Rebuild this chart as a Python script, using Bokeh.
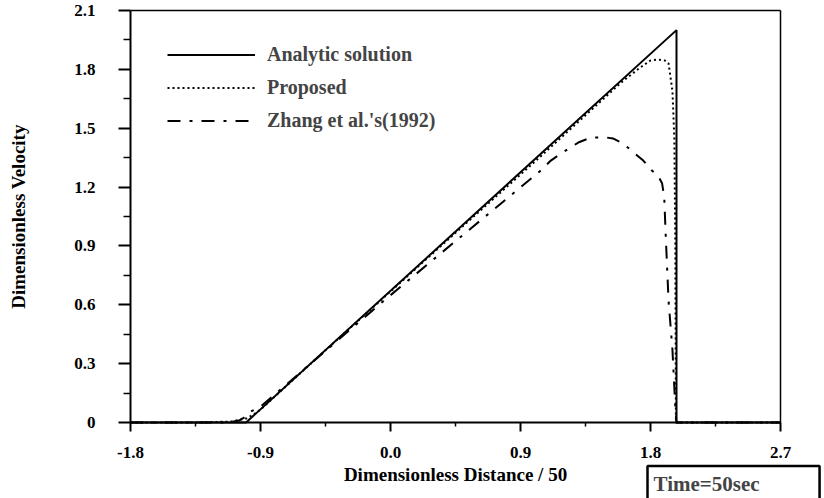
from bokeh.plotting import figure
from bokeh.models import (Range1d, FixedTicker, PrintfTickFormatter, Legend, LegendItem,
                          Label, LinearAxis)
from bokeh.embed import file_html
from bokeh.resources import INLINE

# ---- data ----
analytic_x = [-1.8, -1.0, 1.98, 1.98, 2.7]
analytic_y = [0.0, 0.0, 2.0, 0.0, 0.0]

proposed_x = [-1.8, -1.35, -1.1, -1.0, -0.95, -0.9, -0.5, 0.0, 0.5, 1.0, 1.4, 1.6,
              1.73, 1.8, 1.855, 1.9, 1.925, 1.952, 1.965, 1.972, 1.976, 2.7]
proposed_y = [0.0, 0.0, 0.005, 0.02, 0.04, 0.066, 0.335, 0.668, 1.0, 1.33, 1.6, 1.735,
              1.81, 1.845, 1.85, 1.845, 1.83, 1.69, 1.45, 0.9, 0.0, 0.0]

zhang_x = [-1.8, -1.12, -1.05, -1.0, -0.97, -0.93, -0.9, -0.6, -0.07, 0.5, 1.04, 1.11,
           1.18, 1.3, 1.39, 1.49, 1.54, 1.61, 1.75, 1.81, 1.85, 1.88, 1.895, 1.905,
           1.925, 1.952, 1.973, 1.98, 2.7]
zhang_y = [0.0, 0.0, 0.01, 0.03, 0.055, 0.07, 0.08, 0.27, 0.606, 0.955, 1.284, 1.335,
           1.371, 1.427, 1.453, 1.453, 1.448, 1.422, 1.335, 1.284, 1.26, 1.22, 1.15,
           0.96, 0.62, 0.37, 0.06, 0.0, 0.0]

x_ticks = [-1.8, -0.9, 0.0, 0.9, 1.8, 2.7]
x_minor = [-1.35, -0.45, 0.45, 1.35, 2.25]
y_ticks = [0.0, 0.3, 0.6, 0.9, 1.2, 1.5, 1.8, 2.1]
y_minor = [0.15, 0.45, 0.75, 1.05, 1.35, 1.65, 1.95]
x_min, x_max = -1.8, 2.7
y_min, y_max = 0.0, 2.1

series_names = ["Analytic solution", "Proposed", "Zhang et al.'s(1992)"]
x_label = "Dimensionless Distance / 50"
y_label = "Dimensionless Velocity"
time_text = "Time=50sec"

FONT = "Liberation Serif"

# axes box: x_min at 130 px, x_max at 780 px, y_max at 10 px, y_min at 422 px.
# The plotting frame covers the whole figure so that the axes (fixed in data
# space) and the boxed time label outside the axes box can all be drawn.
W, H = 824, 498
px_per_x = 650 / (x_max - x_min)
px_per_y = 412 / (y_max - y_min)
x_start = x_min - 130 / px_per_x
x_end = x_max + (W - 780) / px_per_x
y_start = y_min - (H - 422) / px_per_y
y_end = y_max + 10 / px_per_y

p = figure(width=W, height=H, output_backend="svg", toolbar_location=None,
           x_range=Range1d(x_start, x_end), y_range=Range1d(y_start, y_end),
           min_border_left=0, min_border_right=0, min_border_top=0, min_border_bottom=0)
p.xgrid.visible = False
p.ygrid.visible = False
p.outline_line_color = None
p.background_fill_color = "white"
p.border_fill_color = "white"

r1 = p.line(analytic_x, analytic_y, line_color="black", line_width=2)
r2 = p.line(proposed_x, proposed_y, line_color="black", line_width=2, line_dash="2 3")
r3 = p.line(zhang_x, zhang_y, line_color="black", line_width=2, line_dash="13 9 3 9")

xax = p.xaxis[0]
yax = p.yaxis[0]
xax.fixed_location = y_min
yax.fixed_location = x_min
xax.bounds = (x_min, x_max)
yax.bounds = (y_min, y_max)

for ax in (xax, yax):
    ax.axis_line_width = 2
    ax.axis_line_color = "black"
    ax.major_tick_line_width = 2
    ax.minor_tick_line_width = 1.5
    ax.major_tick_in = 0
    ax.minor_tick_in = 0
    ax.major_label_text_font = FONT
    ax.major_label_text_font_style = "bold"
    ax.major_label_text_font_size = "17px"
    ax.major_label_text_color = "black"
    ax.axis_label_text_font = FONT
    ax.axis_label_text_font_style = "bold"
    ax.axis_label_text_font_size = "19px"
    ax.axis_label_text_color = "black"

xax.ticker = FixedTicker(ticks=x_ticks, minor_ticks=x_minor)
yax.ticker = FixedTicker(ticks=y_ticks, minor_ticks=y_minor)
xax.formatter = PrintfTickFormatter(format="%.1f")
yax.formatter = PrintfTickFormatter(format="%.1f")
yax.major_label_overrides = {0: "0"}
yax.major_label_text_baseline = "top"

xax.major_tick_out = 9
xax.minor_tick_out = 4
yax.major_tick_out = 12
yax.minor_tick_out = 7
xax.major_label_standoff = 15
yax.major_label_standoff = 23
xax.axis_label = x_label
yax.axis_label = y_label
xax.axis_label_standoff = 3
yax.axis_label_standoff = 42

# top and right borders of the axes box
top = LinearAxis(fixed_location=y_max, bounds=(x_min, x_max), ticker=FixedTicker(ticks=[]),
                 major_label_text_font_size="0px", major_tick_line_color=None,
                 minor_tick_line_color=None, axis_line_width=1.5)
right = LinearAxis(fixed_location=x_max, bounds=(y_min, y_max), ticker=FixedTicker(ticks=[]),
                   major_label_text_font_size="0px", major_tick_line_color=None,
                   minor_tick_line_color=None, axis_line_width=1.5)
p.add_layout(top, "above")
p.add_layout(right, "right")

legend = Legend(items=[LegendItem(label=series_names[0], renderers=[r1]),
                       LegendItem(label=series_names[1], renderers=[r2]),
                       LegendItem(label=series_names[2], renderers=[r3])],
                location=(167, 365), border_line_color=None, background_fill_alpha=0,
                label_text_font=FONT, label_text_font_style="bold",
                label_text_font_size="20px", glyph_width=88, glyph_height=25,
                label_height=25, spacing=8, padding=0, margin=0, label_standoff=12)
p.add_layout(legend)

box = Label(x=647, y=11, x_units="screen", y_units="screen", text=time_text,
            text_font=FONT, text_font_style="bold", text_font_size="21px",
            text_baseline="middle", text_align="left",
            border_line_color="black", border_line_width=2.5,
            background_fill_color="white", padding=(6, 60, 6, 13))
p.add_layout(box)

open("out.html", "w").write(file_html(p, INLINE))
